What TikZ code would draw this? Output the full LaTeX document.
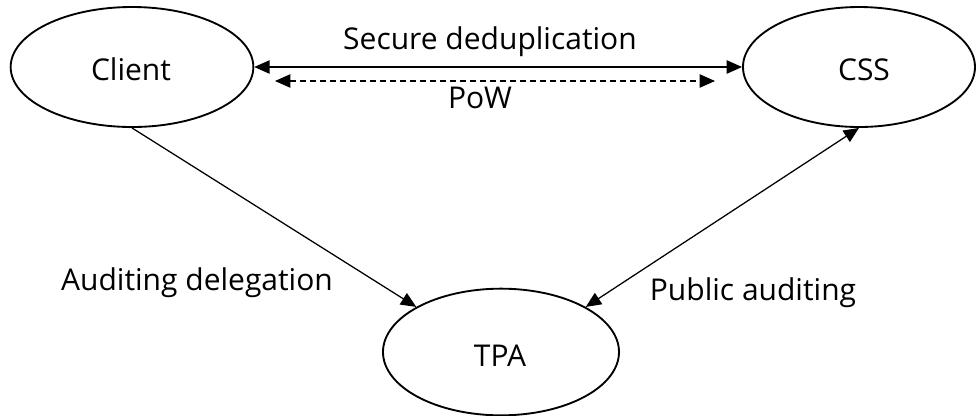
\documentclass[tikz,border=0pt]{standalone}
\usepackage{fontspec}
\setmainfont{Open Sans}
\usetikzlibrary{shapes.geometric,arrows.meta}
\begin{document}
\begin{tikzpicture}[x=0.75pt,y=-0.75pt,
  party/.style={draw=black,line width=1.4pt,ellipse,inner sep=0pt},
  lbl/.style={font=\fontsize{22.5}{26}\selectfont,anchor=base,inner sep=0pt},
  tip/.style={Triangle[length=11.5pt,width=10pt]},
  link/.style={line width=0.95pt,{Triangle[length=11.5pt,width=10pt]}-{Triangle[length=11.5pt,width=10pt]}},
  oneway/.style={line width=0.95pt,-{Triangle[length=11.5pt,width=10pt]}}]
\useasboundingbox (0,0) rectangle (976,415);

% the three parties
\node[party,minimum width=182pt,minimum height=90pt] (client) at (132,67) {};
\node[party,minimum width=174pt,minimum height=90pt] (css) at (859,67) {};
\node[party,minimum width=177pt,minimum height=95pt] (tpa) at (501,352) {};

\node[lbl] (tclient) at (131,80) {Client};
\node[lbl] (tcss) at (864,80) {CSS};
\node[lbl] (ttpa) at (500,366) {TPA};

% deduplication and proof of ownership
\draw[link] (client.east) -- (css.west);
\coordinate (powl) at (275,81);
\coordinate (powr) at (715,81);
\draw[link,dash pattern=on 4.5pt off 3pt] (powl) -- (powr);
\node[lbl] (tdedup) at (490,49) {Secure deduplication};
\node[lbl] (tpow) at (480,108) {PoW};

% auditing
\draw[oneway] (client.south) -- (tpa.152);
\draw[link] (tpa.28) -- (css.south);
\node[lbl] (tdeleg) at (197,290) {Auditing delegation};
\node[lbl] (tpublic) at (753,300) {Public auditing};
\end{tikzpicture}
\end{document}
